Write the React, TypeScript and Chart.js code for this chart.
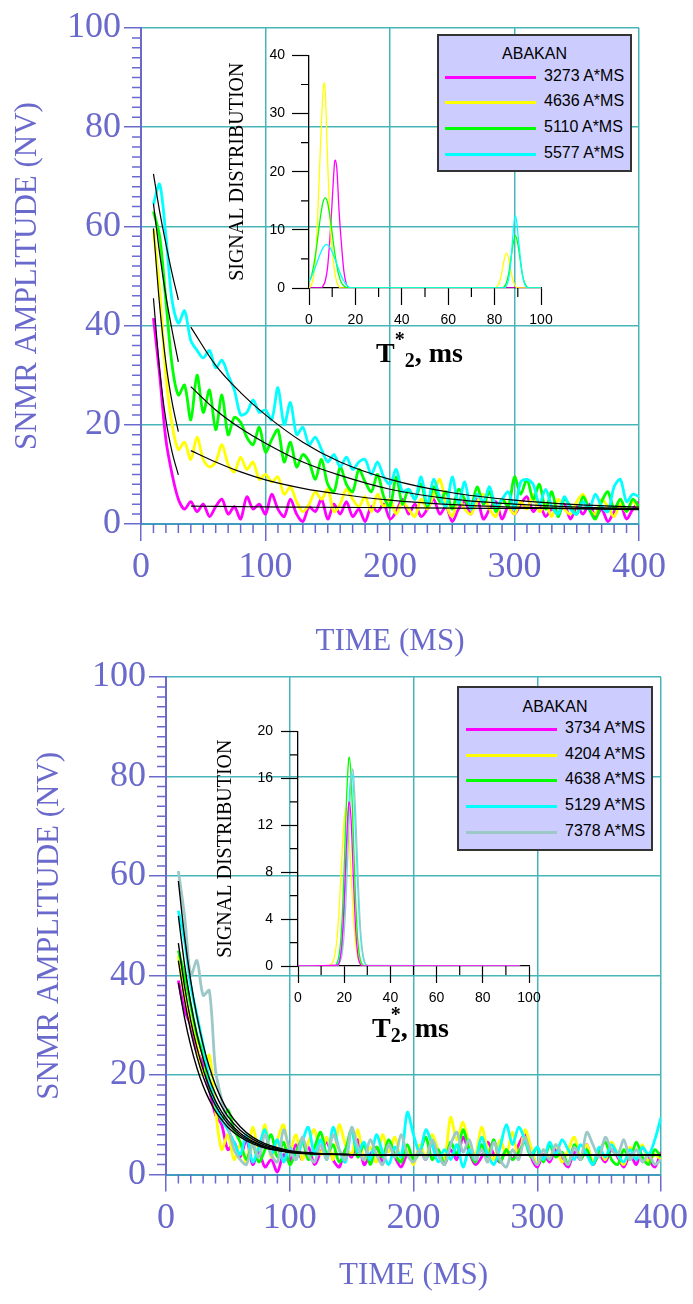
import React, { useEffect, useRef } from 'react';
import Chart from 'chart.js/auto';

// ---------------- DATA ----------------
const TIME_MS = [
  10, 15, 20, 25, 30, 35, 40, 45, 50, 55,
  60, 65, 70, 75, 80, 85, 90, 95, 100, 105,
  110, 115, 120, 125, 130, 135, 140, 145, 150, 155,
  160, 165, 170, 175, 180, 185, 190, 195, 200, 205,
  210, 215, 220, 225, 230, 235, 240, 245, 250, 255,
  260, 265, 270, 275, 280, 285, 290, 295, 300, 305,
  310, 315, 320, 325, 330, 335, 340, 345, 350, 355,
  360, 365, 370, 375, 380, 385, 390, 395, 400,
];

// Upper panel (SNMR amplitude, nV)
const TOP_3273 = [
  41.5, 30, 17, 10, 5, 3, 4.5, 2.5, 4, 1.5,
  3.5, 5, 2, 3.5, 1, 5.5, 3, 4, 2, 6,
  3, 1.5, 5, 2, 0.5, 3.5, 2.5, 5, 1, 4,
  2, 4.5, 1.5, 3, 0.5, 3.5, 2.5, 4, 1, 2.5,
  5, 2, 4, 1.5, 3, 5, 2, 3.5, 0.5, 3,
  4.5, 2, 5, 1, 3, 4.5, 1, 3.5, 2, 4,
  5.5, 2.5, 4, 1.5, 3, 2, 4, 1, 3.5, 2,
  4, 1.5, 3, 0.5, 2.5, 4, 1, 3, 4.5,
];
const TOP_4636 = [
  59.5, 47, 30, 20, 15, 16.5, 13, 17.5, 13, 11.5,
  12.5, 16, 12, 10.5, 13.5, 11, 12.5, 9, 10, 8.5,
  9.5, 6, 7.5, 4.5, 2.5, 4, 6.5, 5, 7, 2.5,
  4, 7, 5, 3.5, 5.5, 2.5, 6, 3.5, 5, 2,
  4.5, 3, 1.5, 5, 3, 6, 9, 4, 1.5, 5,
  3, 2, 4.5, 6, 3, 1.5, 5, 3.5, 2, 4.5,
  3, 6, 2.5, 4, 1.5, 5, 3, 2, 4.5, 6,
  3, 2, 5, 3.5, 1.5, 4, 2.5, 4.5, 3,
];
const TOP_5110 = [
  63, 58, 45, 32, 26, 28, 21, 30, 22.5, 27,
  19, 26, 18, 21.5, 20.5, 17.5, 16, 19.5, 14.5, 17,
  19, 12.5, 16.5, 11.5, 14, 12.5, 9, 13, 8, 6.5,
  11.5, 8, 6.5, 11, 8.5, 6.5, 10, 5.5, 3.5, 9.5,
  4, 7, 5, 8, 3.5, 7.5, 4.5, 6.5, 3, 7,
  5, 3.5, 7.5, 4, 6.5, 2.5, 5, 3.5, 9.5, 6,
  9, 5, 8, 3, 6.5, 1.5, 5, 3.5, 2, 5.5,
  3, 1, 4.5, 6.5, 3, 5, 2.5, 5, 3.5,
];
const TOP_5577 = [
  64.5, 68.5, 58, 45, 40.5, 43, 37, 35, 33.5, 35,
  31.5, 33, 30, 27, 22, 22.5, 25, 22.5, 23, 21,
  27.5, 20, 24.5, 18, 19.5, 16, 17.5, 15, 12.5, 14,
  11.5, 13.5, 11, 12.5, 13, 10, 12.5, 9.5, 8, 11,
  6.5, 7, 5, 9.5, 4, 9, 5.5, 3.5, 9.5, 4,
  8.5, 3, 6, 4.5, 7.5, 3.5, 5, 6.5, 3, 8.5,
  9, 8, 4, 7, 3.5, 2, 5.5, 3, 2, 4.5,
  3, 6, 3.5, 2.5, 7.5, 9, 4.5, 6, 5.5,
];

// Upper panel fitted decays
const TOP_FIT_EARLY_X = [10, 15, 20, 25, 30];
const TOP_FIT_EARLY_3273 = [45.5, 31, 21, 14.5, 9.9];
const TOP_FIT_EARLY_4636 = [59.6, 44, 32.5, 24.5, 18.6];
const TOP_FIT_EARLY_5110 = [64.6, 54.5, 46, 39, 32.7];
const TOP_FIT_EARLY_5577 = [70.6, 63, 56.5, 50.5, 45.2];
const TOP_FIT_LATE_X = [40, 60, 80, 100, 130, 160, 200, 250, 300, 350, 400];
const TOP_FIT_LATE_3273 = [3.6, 3.55, 3.5, 3.45, 3.4, 3.35, 3.3, 3.2, 3.15, 3.1, 3.0];
const TOP_FIT_LATE_4636 = [14.8, 12.5, 10.5, 8.9, 7.2, 6, 4.8, 3.9, 3.4, 3.1, 2.9];
const TOP_FIT_LATE_5110 = [27.7, 23, 19.3, 16.3, 12.5, 9.8, 7, 5, 4, 3.4, 3.1];
const TOP_FIT_LATE_5577 = [39.7, 32, 26.5, 22, 16.5, 12.5, 9, 6.3, 4.8, 3.9, 3.4];

// Upper inset: T2* distribution
const INS1_3273_X = [0, 5, 6, 7, 8, 9, 10, 11, 11.3, 12, 13, 14, 15, 16, 17, 18, 100];
const INS1_3273_Y = [0, 0, 0.3, 1.2, 3.5, 8.5, 15, 21.5, 22, 20.5, 13, 7.5, 3, 0.8, 0.1, 0, 0];
const INS1_4636_X = [0, 1, 2, 3, 4, 5, 6, 6.5, 7, 8, 9, 10, 11, 12, 13, 14, 80, 81, 82, 83, 84, 85, 86, 87, 88, 89, 90, 100];
const INS1_4636_Y = [0, 0.5, 2, 6, 15, 25, 33.5, 35.3, 34, 22, 12, 6.5, 3, 1, 0.2, 0, 0, 0.2, 0.9, 2.4, 4.6, 6, 5.2, 3, 1.2, 0.3, 0, 0];
const INS1_5110_X = [0, 1, 2, 3, 4, 5, 6, 7, 8, 9, 10, 11, 12, 13, 14, 15, 16, 17, 18, 83, 84, 85, 86, 87, 88, 89, 90, 91, 92, 93, 94, 95, 100];
const INS1_5110_Y = [1, 2, 3.8, 6.3, 9.4, 12.4, 14.7, 15.5, 14.7, 12.4, 9.4, 6.3, 3.8, 2, 0.9, 0.4, 0.1, 0, 0, 0, 0.2, 0.8, 2.3, 4.9, 7.6, 9, 7.6, 4.9, 2.3, 0.8, 0.2, 0, 0];
const INS1_5577_X = [0, 1, 2, 3, 4, 5, 6, 7, 7.5, 8, 9, 10, 11, 12, 13, 14, 15, 16, 17, 18, 84, 85, 86, 87, 88, 88.8, 89.5, 90, 91, 92, 93, 94, 95, 100];
const INS1_5577_Y = [1.2, 1.9, 2.8, 3.9, 5, 6, 6.9, 7.4, 7.5, 7.4, 7, 6.2, 5.2, 4.1, 3, 2, 1.2, 0.6, 0.2, 0, 0, 0.3, 1.5, 4.5, 9.5, 12.5, 11.5, 9.5, 5.5, 2.2, 0.6, 0.1, 0, 0];

// Lower panel
const BOT_3734 = [
  39, 33, 30, 25, 22, 17, 12, 10, 5, 6.5,
  3.5, 7, 2, 4.5, 1.5, 3, 0.5, 4, 2.5, 6,
  3, 5.5, 2, 4.5, 6.5, 3, 1.5, 5, 3.5, 7,
  2, 4, 5.5, 2.5, 6, 3.5, 1.5, 4, 2.5, 5,
  3, 6.5, 4, 2, 5, 3, 7.5, 4.5, 2, 3.5,
  6.5, 4, 2.5, 5, 3, 6, 8, 3.5, 1.5, 4,
  2.5, 5, 3, 1.5, 4.5, 3, 6, 2, 4, 2.5,
  5, 3.5, 1.5, 4, 2, 5.5, 3, 1.5, 4.5,
];
const BOT_4204 = [
  44, 36, 31, 26, 20, 24, 13, 5, 8, 3,
  6, 2.5, 9.5, 5, 10, 3.5, 7, 10, 4.5, 8,
  3, 6.5, 9, 4, 7.5, 3, 10, 6, 4, 9,
  3, 5.5, 2.5, 8, 4.5, 7.5, 3, 5, 2, 6,
  3.5, 8, 5, 3, 11.5, 7, 10.5, 6, 4, 9.5,
  5, 3, 7, 4, 8.5, 3, 9, 5.5, 2, 5,
  3.5, 6, 2.5, 5, 7.5, 3.5, 6, 2.5, 5, 3,
  6.5, 4, 2, 5.5, 3, 6, 2.5, 4, 3,
];
const BOT_4638 = [
  45, 40, 34, 28, 24, 18, 14, 11, 13, 9,
  6.5, 3, 6, 2.5, 5, 8, 3.5, 6.5, 2, 4.5,
  7, 3, 5.5, 8.5, 4, 6, 2.5, 5, 9, 3.5,
  6, 2, 5.5, 3.5, 7, 4, 2.5, 6, 3, 4.5,
  7.5, 3, 5, 2, 6.5, 4, 9, 5, 2.5, 6,
  3.5, 7, 2.5, 5, 3, 4.5, 6.5, 3.5, 5.5, 2.5,
  6, 3.5, 4.5, 2, 6, 3, 5, 2, 4.5, 6.5,
  3, 2, 5, 3, 6.5, 3.5, 2, 5, 3.5,
];
const BOT_5129 = [
  53, 47, 38, 32, 26, 19, 14, 11, 9, 6.5,
  4, 8, 2.5, 5.5, 9, 4, 7, 2.5, 5.5, 3,
  6.5, 9.5, 4, 7, 3, 9.5, 5, 2.5, 9, 4.5,
  6.5, 3, 8, 4.5, 2, 5.5, 3.5, 12.5, 8, 4.5,
  9, 6, 2.5, 5, 3, 6, 1.5, 5, 3, 7.5,
  4, 2, 5.5, 10, 6, 9.5, 7, 4, 5.5, 3,
  6.5, 4, 7, 5, 3, 6, 4, 2, 5.5, 3.5,
  6, 4, 2.5, 5, 3, 5.5, 4, 7, 11.5,
];
const BOT_7378 = [
  61, 52, 40, 43, 36, 37, 21, 15, 10, 5,
  3, 2, 6, 3.5, 8, 4, 2.5, 9, 5, 3,
  7.5, 4, 2.5, 6, 3, 8, 5, 3, 9.5, 5.5,
  3, 7, 4, 2, 6, 3.5, 8, 4, 2.5, 5,
  3, 7, 4, 2, 6, 8.5, 4.5, 7, 3, 5,
  2.5, 6.5, 3, 1.5, 5, 3, 7.5, 4, 2, 5,
  3, 6, 4, 2, 5.5, 3, 8.5, 6, 3.5, 7.5,
  5, 4, 7, 3, 5, 2.5, 4, 2, 3,
];
const BOT_FIT_X = [10, 15, 20, 25, 30, 35, 40, 45, 50, 60, 70, 80, 90, 100, 120, 150, 200, 300, 400];
const BOT_FIT_3734 = [38.5, 31.5, 25.9, 21.4, 17.8, 15, 12.7, 11, 9.5, 7.5, 6.2, 5.3, 4.8, 4.4, 4.1, 4, 3.9, 3.9, 3.9];
const BOT_FIT_4204 = [43, 35.1, 28.7, 23.7, 19.7, 16.5, 13.9, 11.9, 10.2, 7.9, 6.5, 5.5, 4.9, 4.5, 4.2, 4, 3.9, 3.9, 3.9];
const BOT_FIT_4638 = [46.5, 37.8, 30.9, 25.5, 21.1, 17.6, 14.8, 12.6, 10.8, 8.3, 6.7, 5.6, 5, 4.6, 4.2, 4, 3.9, 3.9, 3.9];
const BOT_FIT_5129 = [52, 42.2, 34.4, 28.2, 23.3, 19.3, 16.2, 13.7, 11.7, 8.9, 7.1, 5.9, 5.2, 4.7, 4.2, 4, 3.9, 3.9, 3.9];
const BOT_FIT_7378 = [59, 47.8, 38.9, 31.8, 26.1, 21.6, 18, 15.1, 12.8, 9.6, 7.5, 6.2, 5.4, 4.8, 4.3, 4, 3.9, 3.9, 3.9];

// Lower inset
const INS2_3734_X = [0, 17, 18, 19, 20, 21, 22, 22.2, 23, 24, 25, 26, 27, 28, 96];
const INS2_3734_Y = [0, 0.07, 0.4, 1.9, 5.4, 10.5, 13.9, 14, 12.4, 7.4, 3, 0.8, 0.15, 0, 0];
const INS2_4204_X = [0, 13, 14, 15, 16, 17, 18, 19, 20, 20.8, 21, 22, 23, 24, 25, 26, 27, 28, 96];
const INS2_4204_Y = [0, 0, 0.1, 0.3, 1, 2.6, 5.5, 9.3, 12.5, 13.5, 13.4, 11.4, 7.8, 4.2, 1.8, 0.6, 0.2, 0, 0];
const INS2_4638_X = [0, 16, 17, 18, 19, 20, 21, 22, 22.2, 23, 24, 25, 26, 27, 28, 29, 96];
const INS2_4638_Y = [0, 0, 0.3, 1.2, 3.6, 8.4, 14.2, 17.7, 17.8, 16.1, 10.9, 5.4, 1.9, 0.5, 0.1, 0, 0];
const INS2_5129_X = [0, 16, 17, 18, 19, 20, 21, 22, 23, 23.2, 24, 25, 26, 27, 28, 29, 30, 31, 96];
const INS2_5129_Y = [0, 0, 0.1, 0.6, 1.8, 4.6, 9, 13.7, 16.4, 16.5, 15.2, 11, 6.2, 2.7, 0.9, 0.2, 0.05, 0, 0];
const INS2_7378_X = [0, 17, 18, 19, 20, 21, 22, 23, 23.6, 24, 25, 26, 27, 28, 29, 30, 96];
const INS2_7378_Y = [0, 0, 0.3, 0.9, 2.8, 6.6, 11.8, 15.9, 16.8, 16.4, 12.8, 7.6, 3.4, 1.2, 0.3, 0.06, 0];

const LEGEND_TITLE = 'ABAKAN';
const TOP_LABELS = ['3273 A*MS', '4636 A*MS', '5110 A*MS', '5577 A*MS'];
const BOT_LABELS = ['3734 A*MS', '4204 A*MS', '4638 A*MS', '5129 A*MS', '7378 A*MS'];

// ---------------- STYLE ----------------
const MAGENTA = '#ff00ff';
const YELLOW = '#ffff00';
const GREEN = '#00ff00';
const CYAN = '#00ffff';
const GREY = '#9cc8c8';
const SLATE = '#6a6acc';
const TEAL = '#48b6b8';
const SERIF = "'Liberation Serif', 'Times New Roman', serif";
const SANS = "'Liberation Sans', Arial, sans-serif";

const pts = (xs: number[], ys: number[]) => xs.map((x, i) => ({ x, y: ys[i] }));

const series = (xs: number[], ys: number[], color: string, width = 2.8) => ({
  data: pts(xs, ys),
  borderColor: color,
  backgroundColor: color,
  borderWidth: width,
  pointRadius: 0,
  fill: false,
  tension: 0.3,
});
const fit = (xs: number[], ys: number[], width = 1.2) => ({
  data: pts(xs, ys),
  borderColor: '#000',
  borderWidth: width,
  pointRadius: 0,
  fill: false,
  tension: 0.4,
  cubicInterpolationMode: 'monotone',
});
const dist = (xs: number[], ys: number[], color: string) => ({
  data: pts(xs, ys),
  borderColor: color,
  borderWidth: 1.3,
  pointRadius: 0,
  fill: false,
  cubicInterpolationMode: 'monotone',
});

const minorTicks = {
  id: 'minorTicks',
  afterDraw(chart: any, _a: any, o: any) {
    if (!o || !o.enabled) return;
    const { ctx } = chart;
    const xs = chart.scales.x;
    const ys = chart.scales.y;
    const yb = ys.getPixelForValue(ys.min);
    const xl = xs.getPixelForValue(xs.min);
    ctx.save();
    ctx.strokeStyle = o.color;
    ctx.lineWidth = o.width;
    ctx.beginPath();
    for (let i = 0; ; i++) {
      const v = xs.min + i * o.xStep;
      if (v > xs.max + 1e-9) break;
      const r = v / o.xMajor;
      if (Math.abs(r - Math.round(r)) < 1e-6) continue;
      const px = xs.getPixelForValue(v);
      ctx.moveTo(px, yb);
      ctx.lineTo(px, yb + o.xLen);
    }
    for (let i = 0; ; i++) {
      const v = ys.min + i * o.yStep;
      if (v > ys.max + 1e-9) break;
      const r = v / o.yMajor;
      if (Math.abs(r - Math.round(r)) < 1e-6) continue;
      const py = ys.getPixelForValue(v);
      ctx.moveTo(xl - o.yLen, py);
      ctx.lineTo(xl, py);
    }
    ctx.stroke();
    ctx.restore();
  },
};

function mainConfig(p: any) {
  return {
    type: 'line',
    data: { datasets: p.datasets },
    options: {
      animation: false,
      responsive: false,
      devicePixelRatio: 1,
      layout: { padding: { left: 0, top: p.padTop, right: p.padRight, bottom: 0 } },
      plugins: {
        legend: { display: false },
        tooltip: { enabled: false },
        minorTicks: { enabled: true, xStep: 10, xMajor: 100, xLen: 9, yStep: 2, yMajor: 20, yLen: 9, color: SLATE, width: 1.5 },
      },
      scales: {
        x: {
          type: 'linear',
          min: 0,
          max: 400,
          afterFit: (s: any) => { s.height = p.xHeight; },
          ticks: { stepSize: 100, color: SLATE, font: { family: SERIF, size: 36 }, padding: p.xTickPad, maxRotation: 0, autoSkip: false },
          grid: { color: TEAL, lineWidth: 1.5, tickLength: 17, tickColor: SLATE, tickWidth: 1.5 },
          border: { color: '#3f9dbd', width: 2 },
          title: { display: true, text: 'TIME (MS)', color: SLATE, font: { family: SERIF, size: 31 }, padding: { top: 0, bottom: p.xTitlePad } },
        },
        y: {
          type: 'linear',
          min: 0,
          max: 100,
          afterFit: (s: any) => { s.width = p.yWidth; },
          ticks: { stepSize: 20, color: SLATE, font: { family: SERIF, size: 36 }, padding: p.yTickPad, autoSkip: false },
          grid: { color: TEAL, lineWidth: 1.5, tickLength: 17, tickColor: SLATE, tickWidth: 1.5 },
          border: { color: SLATE, width: 2 },
          title: { display: true, text: 'SNMR AMPLITUDE (NV)', color: SLATE, font: { family: SERIF, size: 31 }, padding: { top: p.yTitlePad, bottom: 0 } },
        },
      },
    },
    plugins: [minorTicks],
  };
}

function insetConfig(p: any) {
  return {
    type: 'line',
    data: { datasets: p.datasets },
    options: {
      animation: false,
      responsive: false,
      devicePixelRatio: 1,
      layout: { padding: { left: 0, top: p.padTop, right: p.padRight, bottom: 0 } },
      plugins: {
        legend: { display: false },
        tooltip: { enabled: false },
        minorTicks: { enabled: true, xStep: 10, xMajor: 20, xLen: 9, yStep: p.yMinor, yMajor: p.yStep, yLen: 8, color: '#000', width: 1.2 },
      },
      scales: {
        x: {
          type: 'linear',
          min: 0,
          max: 100,
          afterFit: (s: any) => { s.height = p.xHeight; },
          ticks: { stepSize: 20, color: '#000', font: { family: SANS, size: 14 }, padding: p.xTickPad, maxRotation: 0, autoSkip: false },
          grid: { drawOnChartArea: false, tickLength: 17, tickColor: '#000', tickWidth: 1.2 },
          border: { color: '#000', width: 1.3 },
        },
        y: {
          type: 'linear',
          min: 0,
          max: p.yMax,
          afterFit: (s: any) => { s.width = p.yWidth; },
          ticks: { stepSize: p.yStep, color: '#000', font: { family: SANS, size: 14 }, padding: p.yTickPad, autoSkip: false },
          grid: { drawOnChartArea: false, tickLength: 17, tickColor: '#000', tickWidth: 1.2 },
          border: { color: '#000', width: 1.3 },
          title: { display: true, text: 'SIGNAL DISTRIBUTION', color: '#000', font: { family: SERIF, size: 20 }, padding: { top: p.yTitlePad, bottom: 0 } },
        },
      },
    },
    plugins: [minorTicks],
  };
}

function ChartCanvas({ left, top, width, height, make }: any) {
  const ref = useRef<HTMLCanvasElement | null>(null);
  useEffect(() => {
    const c = new Chart(ref.current as any, make() as any);
    return () => c.destroy();
  }, []);
  return (
    <canvas
      ref={ref}
      width={width}
      height={height}
      style={{ position: 'absolute', left, top, width, height }}
    />
  );
}

function Legend({ box, titleY, rows, lineX1, lineX2, labelX }: any) {
  const [bl, bt, bw, bh] = box;
  const ox = bl + 2;
  const oy = bt + 2;
  return (
    <div
      style={{
        position: 'absolute', left: bl, top: bt, width: bw, height: bh, boxSizing: 'border-box',
        background: '#ccccff', border: '2px solid #333',
      }}
    >
      <div
        style={{
          position: 'absolute', left: 0, right: 0, top: titleY - oy - 10, height: 20, lineHeight: '20px',
          textAlign: 'center', font: `16px ${SANS}`, color: '#000',
        }}
      >
        {LEGEND_TITLE}
      </div>
      {rows.map((r: any, i: number) => (
        <React.Fragment key={i}>
          <div style={{ position: 'absolute', left: lineX1 - ox, top: r.y - oy - 1.5, width: lineX2 - lineX1, height: 3, background: r.color }} />
          <div
            style={{
              position: 'absolute', left: labelX - ox, top: r.y - oy - 10, height: 20, lineHeight: '20px',
              font: `16px ${SANS}`, color: '#000', whiteSpace: 'nowrap',
            }}
          >
            {r.label}
          </div>
        </React.Fragment>
      ))}
    </div>
  );
}

function T2Title({ left, top, stacked }: any) {
  return (
    <div
      style={{
        position: 'absolute', left, top, font: `bold 28px ${SERIF}`, lineHeight: '28px',
        color: '#000', whiteSpace: 'nowrap',
      }}
    >
      T
      <span style={{ fontSize: 20, verticalAlign: '16px', lineHeight: 0 }}>*</span>
      <span style={{ fontSize: 20, verticalAlign: '-5px', lineHeight: 0, marginLeft: stacked ? -10 : 0 }}>2</span>
      , ms
    </div>
  );
}

export default function App() {
  const topMain = () =>
    mainConfig({
      padTop: 28, padRight: 54, yWidth: 141, xHeight: 141, xTickPad: 5, yTickPad: 3, xTitlePad: 5, yTitlePad: 9,
      datasets: [
        fit(TOP_FIT_EARLY_X, TOP_FIT_EARLY_5577),
        fit(TOP_FIT_EARLY_X, TOP_FIT_EARLY_5110),
        fit(TOP_FIT_EARLY_X, TOP_FIT_EARLY_4636),
        fit(TOP_FIT_EARLY_X, TOP_FIT_EARLY_3273),
        fit(TOP_FIT_LATE_X, TOP_FIT_LATE_5577),
        fit(TOP_FIT_LATE_X, TOP_FIT_LATE_5110),
        fit(TOP_FIT_LATE_X, TOP_FIT_LATE_4636),
        fit(TOP_FIT_LATE_X, TOP_FIT_LATE_3273),
        series(TIME_MS, TOP_5577, CYAN),
        series(TIME_MS, TOP_5110, GREEN),
        series(TIME_MS, TOP_4636, YELLOW),
        series(TIME_MS, TOP_3273, MAGENTA),
      ],
    });
  const topInset = () =>
    insetConfig({
      padTop: 15, padRight: 19, yWidth: 89, xHeight: 52, yMax: 40, yStep: 10, yMinor: 5,
      xTickPad: 7, yTickPad: 7, yTitlePad: 6,
      datasets: [
        dist(INS1_5577_X, INS1_5577_Y, CYAN),
        dist(INS1_5110_X, INS1_5110_Y, GREEN),
        dist(INS1_4636_X, INS1_4636_Y, YELLOW),
        dist(INS1_3273_X, INS1_3273_Y, MAGENTA),
      ],
    });
  const botMain = () =>
    mainConfig({
      padTop: 37, padRight: 30, yWidth: 166, xHeight: 129.5, xTickPad: 5, yTickPad: 3, xTitlePad: 10, yTitlePad: 31,
      datasets: [
        fit(BOT_FIT_X, BOT_FIT_7378, 1.4),
        fit(BOT_FIT_X, BOT_FIT_5129, 1.4),
        fit(BOT_FIT_X, BOT_FIT_4638, 1.4),
        fit(BOT_FIT_X, BOT_FIT_4204, 1.4),
        fit(BOT_FIT_X, BOT_FIT_3734, 1.4),
        series(TIME_MS, BOT_7378, GREY),
        series(TIME_MS, BOT_5129, CYAN),
        series(TIME_MS, BOT_4638, GREEN),
        series(TIME_MS, BOT_4204, YELLOW),
        series(TIME_MS, BOT_3734, MAGENTA),
      ],
    });
  const botInset = () =>
    insetConfig({
      padTop: 14, padRight: 21, yWidth: 98, xHeight: 49, yMax: 20, yStep: 4, yMinor: 2,
      xTickPad: 7, yTickPad: 8, yTitlePad: 14,
      datasets: [
        dist(INS2_3734_X, INS2_3734_Y, MAGENTA),
        dist(INS2_7378_X, INS2_7378_Y, GREY),
        dist(INS2_5129_X, INS2_5129_Y, CYAN),
        dist(INS2_4638_X, INS2_4638_Y, GREEN),
        dist(INS2_4204_X, INS2_4204_Y, YELLOW),
      ],
    });

  const topRows = [
    { y: 77, color: MAGENTA, label: TOP_LABELS[0] },
    { y: 102, color: YELLOW, label: TOP_LABELS[1] },
    { y: 128, color: GREEN, label: TOP_LABELS[2] },
    { y: 154, color: CYAN, label: TOP_LABELS[3] },
  ];
  const botRows = [
    { y: 729, color: MAGENTA, label: BOT_LABELS[0] },
    { y: 755, color: YELLOW, label: BOT_LABELS[1] },
    { y: 780, color: GREEN, label: BOT_LABELS[2] },
    { y: 806, color: CYAN, label: BOT_LABELS[3] },
    { y: 832, color: GREY, label: BOT_LABELS[4] },
  ];

  return (
    <div style={{ position: 'absolute', left: 0, top: 0, width: 693, height: 1304, background: '#fff', overflow: 'hidden' }}>
      <ChartCanvas left={0} top={0} width={693} height={665} make={topMain} />
      <ChartCanvas left={220} top={40} width={340} height={300} make={topInset} />
      <ChartCanvas left={0} top={640} width={693} height={664} make={botMain} />
      <ChartCanvas left={200} top={715} width={350} height={300} make={botInset} />
      <Legend box={[437, 34, 195, 138]} titleY={55} rows={topRows} lineX1={445} lineX2={536} labelX={544} />
      <Legend box={[457, 686, 196, 165]} titleY={708} rows={botRows} lineX1={466} lineX2={557} labelX={565} />
      <T2Title left={376} top={339} />
      <T2Title left={372} top={1014} stacked />
    </div>
  );
}
